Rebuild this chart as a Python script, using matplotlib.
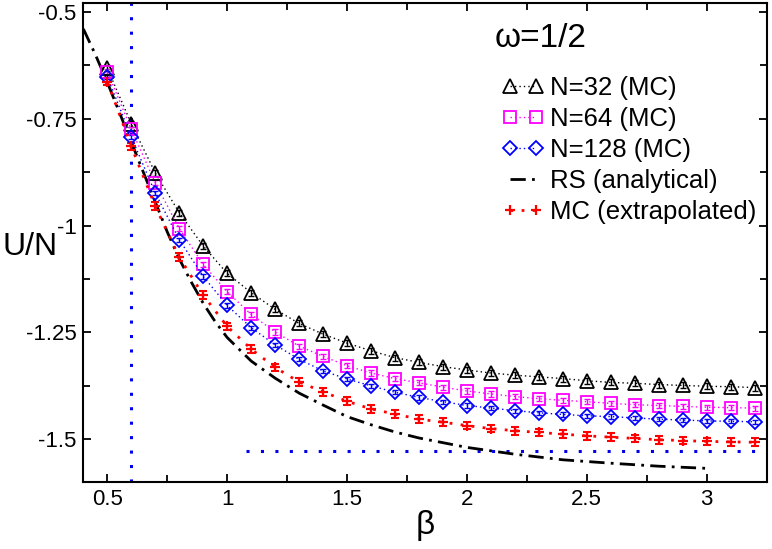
import matplotlib
matplotlib.use("Agg")
import matplotlib.pyplot as plt
from matplotlib.ticker import MultipleLocator, FuncFormatter

plt.rcParams['font.family'] = ['Liberation Sans', 'DejaVu Sans']
plt.rcParams['lines.scale_dashes'] = False

beta = [0.5, 0.6, 0.7, 0.8, 0.9, 1.0, 1.1, 1.2, 1.3, 1.4, 1.5, 1.6, 1.7, 1.8,
        1.9, 2.0, 2.1, 2.2, 2.3, 2.4, 2.5, 2.6, 2.7, 2.8, 2.9, 3.0, 3.1, 3.2]

u_n32 = [-0.632, -0.762, -0.877, -0.970, -1.048, -1.112, -1.157, -1.196, -1.229,
         -1.254, -1.275, -1.293, -1.309, -1.320, -1.330, -1.338, -1.345, -1.350,
         -1.354, -1.358, -1.363, -1.367, -1.369, -1.372, -1.374, -1.376, -1.377, -1.379]
u_n64 = [-0.640, -0.775, -0.900, -1.007, -1.091, -1.155, -1.208, -1.249, -1.282,
         -1.306, -1.328, -1.345, -1.358, -1.368, -1.378, -1.387, -1.394, -1.400,
         -1.405, -1.409, -1.412, -1.416, -1.419, -1.421, -1.423, -1.425, -1.426, -1.427]
u_n128 = [-0.652, -0.793, -0.924, -1.033, -1.119, -1.187, -1.239, -1.279, -1.313,
          -1.340, -1.359, -1.375, -1.390, -1.402, -1.412, -1.421, -1.427, -1.433,
          -1.438, -1.442, -1.445, -1.447, -1.450, -1.453, -1.455, -1.457, -1.458, -1.459]
u_extrap = [-0.663, -0.815, -0.955, -1.074, -1.163, -1.236, -1.289, -1.332, -1.366,
            -1.389, -1.411, -1.429, -1.441, -1.453, -1.460, -1.468, -1.475, -1.480,
            -1.484, -1.488, -1.492, -1.495, -1.498, -1.501, -1.503, -1.505, -1.506, -1.507]

err_n32 = 0.007
err_n64 = 0.006
err_n128 = 0.005
err_extrap = 0.009

beta_rs = [0.4, 0.45, 0.5, 0.55, 0.6, 0.65, 0.7, 0.75, 0.8, 0.85, 0.9, 0.95, 1.0,
           1.1, 1.2, 1.3, 1.4, 1.5, 1.6, 1.7, 1.8, 1.9, 2.0, 2.2, 2.4, 2.6, 2.8, 3.0]
u_rs = [-0.54, -0.60, -0.665, -0.735, -0.805, -0.875, -0.945, -1.015, -1.078, -1.132,
        -1.182, -1.225, -1.262, -1.317, -1.357, -1.392, -1.420, -1.447, -1.466,
        -1.483, -1.497, -1.508, -1.519, -1.535, -1.548, -1.556, -1.563, -1.568]

beta_c = 0.6
ground_level = -1.527
ground_start = 1.08

xlim = (0.4, 3.25)
ylim = (-1.6, -0.48)

fig = plt.figure(figsize=(7.72, 5.49), dpi=100)
ax = fig.add_axes([0.108, 0.122, 0.885, 0.872])

ax.axvline(beta_c, color='#0000ee', lw=2.2, linestyle=(0, (2.2, 8.2)), dash_capstyle='butt', zorder=1)
ax.plot([ground_start, xlim[1]], [ground_level, ground_level], color='#0000ee', lw=2.2,
        linestyle=(0, (2.2, 8.2)), dash_capstyle='butt', zorder=1)

ax.plot(beta_rs, u_rs, color='black', lw=2.0, linestyle=(0, (11, 4.5, 2, 4.5)),
        dash_capstyle='butt', label='RS (analytical)', zorder=2)

def series(u, err, color, marker, ms, label, mew):
    ax.errorbar(beta, u, yerr=err, fmt='none', ecolor=color, elinewidth=1.0,
                capsize=2.5, capthick=1.0, zorder=3)
    ax.plot(beta, u, color=color, lw=1.0, linestyle=(0, (1, 2.2)), marker=marker,
            ms=ms, mfc='none', mec=color, mew=mew, label=label, zorder=4)

series(u_n32, err_n32, 'black', '^', 9.5, 'N=32 (MC)', 1.3)
series(u_n64, err_n64, '#ff00ff', 's', 9, 'N=64 (MC)', 1.3)
series(u_n128, err_n128, '#0000ff', 'D', 6.8, 'N=128 (MC)', 1.3)

ax.errorbar(beta, u_extrap, yerr=err_extrap, fmt='none', ecolor='red', elinewidth=1.5,
            capsize=3, capthick=1.5, zorder=3)
ax.plot(beta, u_extrap, color='red', lw=2.0, linestyle=(0, (2, 6)), marker='+',
        ms=7, mew=1.6, label='MC (extrapolated)', zorder=4)

ax.set_xlim(*xlim)
ax.set_ylim(*ylim)

ax.xaxis.set_major_locator(MultipleLocator(0.5))
ax.xaxis.set_minor_locator(MultipleLocator(0.25))
ax.xaxis.set_major_formatter(FuncFormatter(lambda v, p: f"{v:g}"))
ax.yaxis.set_major_locator(MultipleLocator(0.25))
ax.yaxis.set_minor_locator(MultipleLocator(0.125))
ax.yaxis.set_major_formatter(FuncFormatter(lambda v, p: f"{v:g}"))

ax.tick_params(which='both', direction='in', top=True, right=True, width=1.3,
               labelsize=16, pad=5)
ax.tick_params(which='major', length=6)
ax.tick_params(which='minor', length=5)
for s in ax.spines.values():
    s.set_linewidth(1.5)

ax.set_xlabel('β', fontsize=24, labelpad=0)
ax.set_ylabel('U/N', fontsize=23, rotation=0, ha='left', va='center')
ax.yaxis.set_label_coords(-0.118, 0.49)

ax.text(0.602, 0.909, 'ω=1/2', transform=ax.transAxes, fontsize=24, va='baseline', ha='left')

h, l = ax.get_legend_handles_labels()
order = ['N=32 (MC)', 'N=64 (MC)', 'N=128 (MC)', 'RS (analytical)', 'MC (extrapolated)']
hh = [h[l.index(o)] for o in order]
ax.legend(hh, order, loc='upper left', bbox_to_anchor=(0.613, 0.849), frameon=False,
          fontsize=18.5, handlelength=1.6, handletextpad=0.28, labelspacing=0.28,
          borderpad=0, borderaxespad=0, numpoints=2)

fig.savefig('out.png', dpi=100)
